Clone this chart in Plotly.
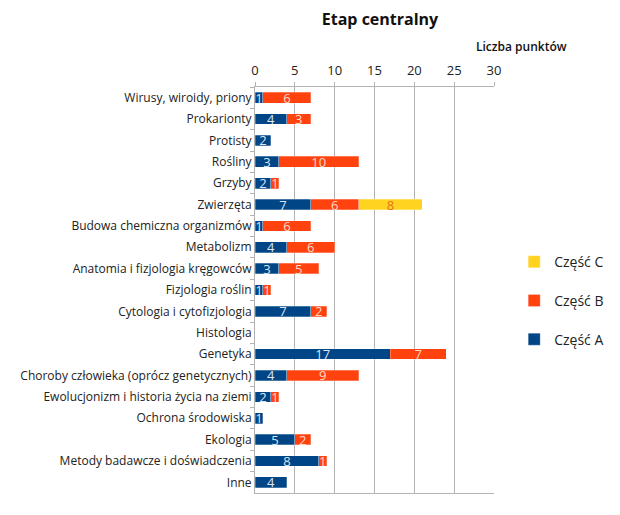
import plotly.graph_objects as go

# Tematy i punkty w poszczególnych częściach
tematy = [
    "Wirusy, wiroidy, priony", "Prokarionty", "Protisty", "Rośliny", "Grzyby",
    "Zwierzęta", "Budowa chemiczna organizmów", "Metabolizm",
    "Anatomia i fizjologia kręgowców", "Fizjologia roślin",
    "Cytologia i cytofizjologia", "Histologia", "Genetyka",
    "Choroby człowieka (oprócz genetycznych)",
    "Ewolucjonizm i historia życia na ziemi", "Ochrona środowiska",
    "Ekologia", "Metody badawcze i doświadczenia", "Inne",
]
czesc_a = [1, 4, 2, 3, 2, 7, 1, 4, 3, 1, 7, None, 17, 4, 2, 1, 5, 8, 4]
czesc_b = [6, 3, None, 10, 1, 6, 6, 6, 5, 1, 2, None, 7, 9, 1, None, 2, 1, None]
czesc_c = [None, None, None, None, None, 8, None, None, None, None, None,
           None, None, None, None, None, None, None, None]

seria = [
    ("Część A", czesc_a, "#004586", "#dde6f0", 3),
    ("Część B", czesc_b, "#ff420e", "#ffd9cc", 2),
    ("Część C", czesc_c, "#ffd320", "#e8731a", 1),
]

FONT = "Open Sans"

fig = go.Figure()
for nazwa, wartosci, kolor, kolor_tekstu, rank in seria:
    fig.add_trace(go.Bar(
        y=tematy, x=wartosci, name=nazwa, orientation="h",
        legendgroup=nazwa, legendrank=rank,
        marker=dict(color=kolor, line=dict(color="rgba(255,255,255,0.45)", width=0.6)),
        text=wartosci, texttemplate="%{x}", textposition="inside",
        insidetextanchor="middle", textangle=0,
        textfont=dict(family=FONT, size=13, color=kolor_tekstu),
    ))

# strona ma 8 px marginesu body, więc figura jest o 8 px mniejsza
fig.update_layout(
    barmode="stack",
    bargap=0.5,
    width=612, height=507,
    margin=dict(l=247, r=125, t=79, b=22),
    paper_bgcolor="white", plot_bgcolor="white",
    font=dict(family=FONT, size=12, color="#222222"),
    uniformtext=dict(minsize=13, mode="show"),
    title=dict(text="<b>Etap centralny</b>", x=372 / 612, xanchor="center",
               y=0.978, yanchor="middle", font=dict(size=16, color="#111111")),
    legend=dict(x=1.08, y=0.608, xanchor="left", yanchor="top",
                traceorder="grouped", tracegroupgap=17.5,
                font=dict(size=14), itemwidth=30),
    annotations=[dict(text="Liczba punktów", xref="paper", yref="paper",
                      x=(570 - 255) / 240, y=1.10, xanchor="right",
                      yanchor="middle", showarrow=False,
                      font=dict(size=12, color="#111111", weight=600))],
)
fig.update_xaxes(
    side="top", range=[0, 30], dtick=5, showgrid=True, gridcolor="#b3b3b3",
    showline=True, linecolor="#b3b3b3", mirror=True, zeroline=False,
    ticks="outside", ticklen=4, tickcolor="#b3b3b3", ticklabelstandoff=2,
    tickfont=dict(size=13), automargin=False,
)
fig.update_yaxes(
    autorange="reversed", showline=True, linecolor="#b3b3b3",
    ticks="outside", ticklen=4, tickcolor="#b3b3b3", tickson="boundaries",
    showgrid=False, tickfont=dict(size=12), automargin=False,
)

fig.write_html("out.html")
